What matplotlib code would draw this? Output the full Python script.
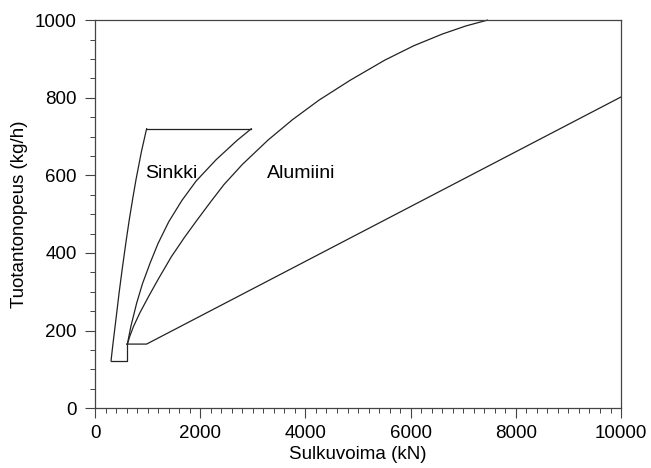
import matplotlib
matplotlib.use("Agg")
import matplotlib.pyplot as plt
from matplotlib.ticker import MultipleLocator

plt.rcParams['font.family'] = ['Liberation Sans', 'DejaVu Sans']

# Sinkki (zinc) region outline
sinkki_left_x = [304, 340, 400, 460, 520, 590, 650, 720, 780, 880, 980]
sinkki_left_y = [122, 165, 232, 300, 362, 430, 485, 543, 590, 660, 720]
sinkki_top_x = [980, 2970]
sinkki_top_y = [720, 720]
sinkki_inner_x = [2970, 2700, 2300, 1920, 1650, 1400, 1200, 1050, 900, 790, 680, 615]
sinkki_inner_y = [720, 690, 640, 585, 535, 480, 425, 375, 320, 270, 210, 165]
sinkki_base_x = [304, 602, 602]
sinkki_base_y = [122, 122, 165]

# Alumiini region outline
alu_upper_x = [615, 660, 730, 850, 1015, 1200, 1450, 1700, 1925, 2200, 2450,
               2800, 3290, 3750, 4260, 4850, 5510, 6060, 6600, 7050, 7460]
alu_upper_y = [165, 185, 210, 245, 287, 332, 390, 440, 482, 532, 576,
               628, 691, 743, 794, 845, 897, 934, 964, 985, 1000]
alu_lower_x = [602, 980, 10000]
alu_lower_y = [165, 165, 802]

fig = plt.figure(figsize=(6.51, 4.68), dpi=100)
ax = fig.add_axes([0.146, 0.128, 0.808, 0.829])

lc = '#222222'
lw = 0.9
for xs, ys in [(sinkki_left_x, sinkki_left_y), (sinkki_top_x, sinkki_top_y),
               (sinkki_inner_x, sinkki_inner_y), (sinkki_base_x, sinkki_base_y),
               (alu_upper_x, alu_upper_y), (alu_lower_x, alu_lower_y)]:
    ax.plot(xs, ys, color=lc, lw=lw, clip_on=False)

ax.text(950, 605, 'Sinkki', fontsize=14, ha='left', va='center')
ax.text(3264, 605, 'Alumiini', fontsize=14, ha='left', va='center')

ax.set_xlim(0, 10000)
ax.set_ylim(0, 1000)
ax.xaxis.set_major_locator(MultipleLocator(2000))
ax.xaxis.set_minor_locator(MultipleLocator(200))
ax.yaxis.set_major_locator(MultipleLocator(200))
ax.yaxis.set_minor_locator(MultipleLocator(50))
ax.tick_params(which='major', length=7, width=0.8, labelsize=13.5, color='#444444')
ax.tick_params(axis='x', which='major', pad=5)
ax.tick_params(axis='y', which='major', pad=6)
ax.tick_params(which='minor', length=3.5, width=0.7, color='#444444')
for s in ax.spines.values():
    s.set_linewidth(0.9)
    s.set_color('#444444')

ax.set_xlabel('Sulkuvoima (kN)', fontsize=13.5, labelpad=3)
ax.set_ylabel('Tuotantonopeus (kg/h)', fontsize=13.5, labelpad=5)

plt.savefig('out.png', dpi=100)
